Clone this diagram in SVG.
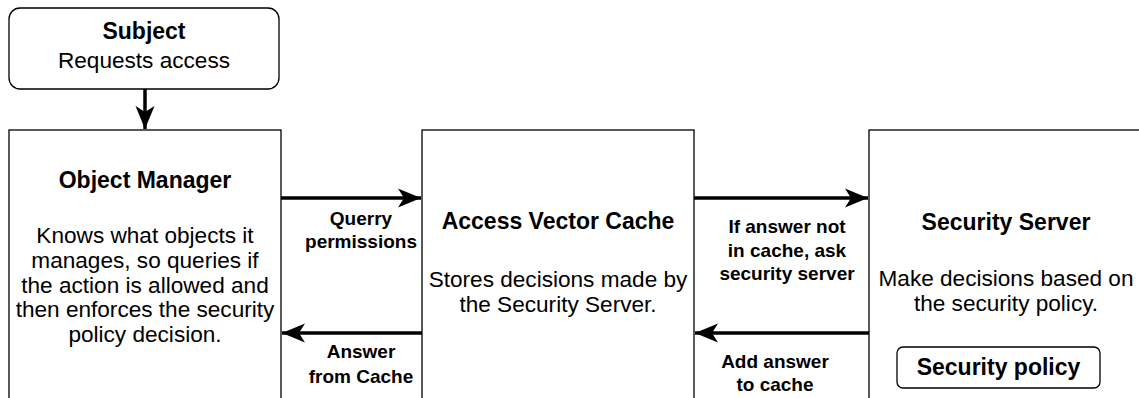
<svg xmlns="http://www.w3.org/2000/svg" width="1139" height="398" viewBox="0 0 1139 398">
<defs>
<style>
.box{fill:#fff;stroke:#000;stroke-width:1.3}
.t{font-family:"Liberation Sans",Arial,sans-serif;fill:#000;text-anchor:middle}
.title{font-size:23px;font-weight:bold}
.body{font-size:22.6px}
.lbl{font-size:19px;font-weight:bold}
.edge{stroke:#000;stroke-width:3.5;fill:none}
</style>
<marker id="ah" markerUnits="userSpaceOnUse" markerWidth="26" markerHeight="22" viewBox="-24 -11 26 22" refX="0" refY="0" orient="auto">
<path d="M0,0 L-23,-9.5 L-17,0 L-23,9.5 Z" fill="#000"/>
</marker>
</defs>
<rect width="1139" height="398" fill="#fff"/>
<g id="subject">
<rect class="box" x="9" y="8" width="270" height="81" rx="11"/>
<text class="t title" x="144" y="39">Subject</text>
<text class="t body" x="144" y="68">Requests access</text>
</g>
<g id="object-manager">
<rect class="box" x="9" y="130" width="272" height="280"/>
<text class="t title" x="145" y="188">Object Manager</text>
<text class="t body" x="145" y="243">Knows what objects it</text>
<text class="t body" x="145" y="268">manages, so queries if</text>
<text class="t body" x="145" y="292.5">the action is allowed and</text>
<text class="t body" x="145" y="317">then enforces the security</text>
<text class="t body" x="145" y="342">policy decision.</text>
</g>
<g id="access-vector-cache">
<rect class="box" x="422" y="130" width="272" height="280"/>
<text class="t title" x="558" y="229">Access Vector Cache</text>
<text class="t body" x="558" y="287">Stores decisions made by</text>
<text class="t body" x="558" y="312">the Security Server.</text>
</g>
<g id="security-server">
<rect class="box" x="869" y="130" width="280" height="280"/>
<text class="t title" x="1006" y="230">Security Server</text>
<text class="t body" x="1006" y="286">Make decisions based on</text>
<text class="t body" x="1006" y="311">the security policy.</text>
</g>
<g id="security-policy">
<rect class="box" x="897" y="347" width="203" height="41" rx="6"/>
<text class="t title" x="998.5" y="375">Security policy</text>
</g>
<g id="connectors">
<line class="edge" x1="145" y1="89" x2="145" y2="129" marker-end="url(#ah)"/>
<line class="edge" x1="281" y1="198" x2="421" y2="198" marker-end="url(#ah)"/>
<line class="edge" x1="422" y1="333" x2="282" y2="333" marker-end="url(#ah)"/>
<line class="edge" x1="694" y1="198" x2="868" y2="198" marker-end="url(#ah)"/>
<line class="edge" x1="869" y1="333" x2="695" y2="333" marker-end="url(#ah)"/>
<text class="t lbl" x="361" y="225">Querry</text>
<text class="t lbl" x="361" y="248">permissions</text>
<text class="t lbl" x="361" y="358">Answer</text>
<text class="t lbl" x="361" y="383">from Cache</text>
<text class="t lbl" x="787" y="233">If answer not</text>
<text class="t lbl" x="787" y="257">in cache, ask</text>
<text class="t lbl" x="787" y="280">security server</text>
<text class="t lbl" x="775" y="368">Add answer</text>
<text class="t lbl" x="775" y="391">to cache</text>
</g>
</svg>
